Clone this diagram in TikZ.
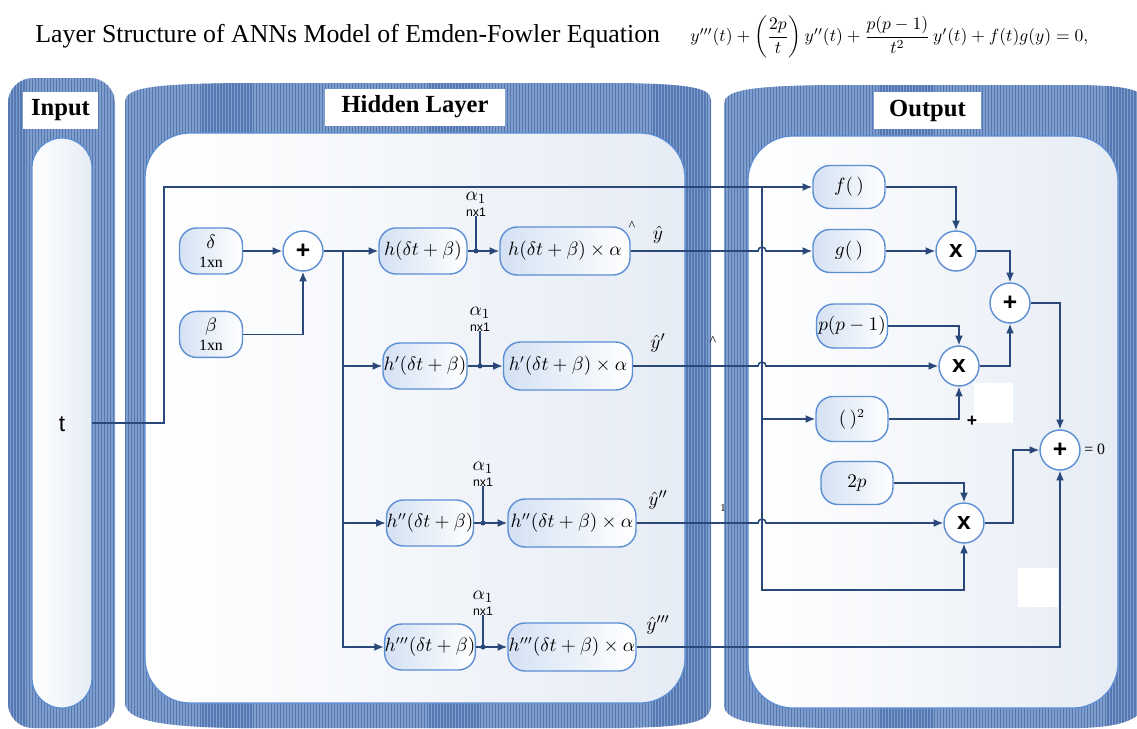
\documentclass[tikz,border=0pt]{standalone}
\usepackage{amsmath}
\usepackage{fontspec}
\setmainfont{Liberation Serif}
\setsansfont{Liberation Sans}
\usetikzlibrary{positioning,calc,arrows.meta,patterns.meta}

\definecolor{stripebase}{RGB}{128,158,204}
\definecolor{stripedark}{RGB}{86,120,178}
\definecolor{rimblue}{RGB}{92,142,212}
\definecolor{paneltint}{RGB}{230,236,245}
\definecolor{boxtint}{RGB}{212,225,243}
\definecolor{wireblue}{RGB}{42,72,122}

\begin{document}
\begin{tikzpicture}
    [x=0.02cm, y=-0.02cm,
     every node/.style={align=center, inner sep=0pt},
     panel/.style={fill=stripebase, postaction={pattern={Lines[angle=90,distance=1.7pt,line width=0.7pt]}, pattern color=stripedark}},
     well/.style={draw=rimblue, line width=0.7pt, left color=white, right color=paneltint},
     tag/.style={fill=white, font=\fontsize{14}{16}\selectfont\bfseries, minimum height=0.74cm},
     box/.style={draw=rimblue, line width=0.8pt, rounded corners=0.34cm, left color=boxtint, right color=white, minimum height=0.92cm, font=\fontsize{10.5}{12}\selectfont},
     opc/.style={circle, draw=rimblue, line width=0.8pt, fill=white, minimum size=0.8cm, font=\sffamily\bfseries\fontsize{14}{14}\selectfont},
     link/.style={draw=wireblue, line width=0.9pt},
     arr/.style={link, >={Latex[length=5.5pt,width=4.5pt]}, ->},
     note/.style={font=\fontsize{11}{12}\selectfont},
    ]
    \useasboundingbox (0,0) rectangle (1137,728);
    \clip (0,0) rectangle (1137,728);

    % columns
    \path[panel, rounded corners=0.5cm] (8,78) rectangle (115,728);
    \path[panel] (125,102) .. controls (125,88) and (150,84) .. (240,83) -- (620,83)
        .. controls (690,84) and (711,88) .. (711,100) -- (711,705)
        .. controls (711,722) and (690,727) .. (620,728) -- (240,728)
        .. controls (150,727) and (125,718) .. (125,702) -- cycle;
    \path[panel] (724,104) .. controls (724,90) and (750,86) .. (830,85) -- (1080,85)
        .. controls (1130,86) and (1145,90) .. (1145,104) -- (1145,700)
        .. controls (1145,715) and (1130,727) .. (1080,728) -- (830,728)
        .. controls (750,727) and (724,720) .. (724,705) -- cycle;

    \path[well, rounded corners=0.6cm] (32,138) rectangle (92,708);
    \path[well, rounded corners=0.9cm] (145,133) rectangle (685,703);
    \path[well, rounded corners=0.9cm] (748,136) rectangle (1118,708);

    \node[tag, minimum width=1.5cm] (labIn) at (60.5,110.5) {Input};
    \node[tag, minimum width=3.6cm] (labHid) at (415,107) {Hidden Layer};
    \node[tag, minimum width=2.14cm] (labOut) at (927.5,110.5) {Output};

    \fill[white] (974,383) rectangle (1013,423);
    \fill[white] (1018,568) rectangle (1058,607);

    % title
    \node[anchor=west, font=\fontsize{14.7}{16}\selectfont] (title) at (35,36)
        {Layer Structure of ANNs Model of Emden-Fowler Equation};
    \node[anchor=west, font=\fontsize{10}{12}\selectfont] (eqn) at (690,37)
        {$y'''(t)+\left(\dfrac{2p}{t}\right)y''(t)+\dfrac{p(p-1)}{t^2}\,y'(t)+f(t)g(y)=0,$};

    % input
    \node[font=\sffamily\fontsize{13}{13}\selectfont] (inT) at (62,424) {t};
    \coordinate (tout) at (92,423);
    \coordinate (tcorner) at (164,187);

    % hidden layer
    \node[box, minimum width=1.26cm] (delta) at (211,251)
        {$\delta$\\[-1pt]{\fontsize{9}{9}\selectfont 1xn}};
    \node[box, minimum width=1.26cm, below=0.72cm of delta] (beta)
        {$\beta$\\[-1pt]{\fontsize{9}{9}\selectfont 1xn}};
    \node[opc] (sum) at (303,251) {+};
    \coordinate (busA) at (343,251);

    \node[box, minimum width=1.76cm] (h1) at (423,251) {$h(\delta t+\beta)$};
    \node[box, minimum width=2.6cm, minimum height=0.96cm] (ha1) at (565,251) {$h(\delta t+\beta)\times\alpha$};
    \node[box, minimum width=1.68cm] (h2) at (425,366) {$h'(\delta t+\beta)$};
    \node[box, minimum width=2.58cm, minimum height=0.96cm] (ha2) at (568,366) {$h'(\delta t+\beta)\times\alpha$};
    \node[box, minimum width=1.74cm] (h3) at (430,523) {$h''(\delta t+\beta)$};
    \node[box, minimum width=2.56cm, minimum height=0.96cm] (ha3) at (572,523) {$h''(\delta t+\beta)\times\alpha$};
    \node[box, minimum width=1.74cm] (h4) at (430,647) {$h'''(\delta t+\beta)$};
    \node[box, minimum width=2.56cm, minimum height=0.96cm] (ha4) at (572,647) {$h'''(\delta t+\beta)\times\alpha$};

    \coordinate (dot1) at (476,251);
    \coordinate (dot2) at (480,366);
    \coordinate (dot3) at (483,523);
    \coordinate (dot4) at (483,647);
    \node[note] (al1) at (476,204) {$\alpha_1$\\[-3pt]{\sffamily\fontsize{7}{7}\selectfont nx1}};
    \node[note] (al2) at (480,319) {$\alpha_1$\\[-3pt]{\sffamily\fontsize{7}{7}\selectfont nx1}};
    \node[note] (al3) at (483,474) {$\alpha_1$\\[-3pt]{\sffamily\fontsize{7}{7}\selectfont nx1}};
    \node[note] (al4) at (483,603) {$\alpha_1$\\[-3pt]{\sffamily\fontsize{7}{7}\selectfont nx1}};

    \node[note] (yh1) at (658,235) {$\hat{y}$};
    \node[note] (yh2) at (658,343) {$\hat{y}'$};
    \node[note] (yh3) at (658,500) {$\hat{y}''$};
    \node[note] (yh4) at (658,625) {$\hat{y}'''$};
    \node[font=\fontsize{8}{8}\selectfont] (hat1) at (632,226) {\^{}};
    \node[font=\fontsize{8}{8}\selectfont] (hat2) at (713,341) {\^{}};
    \node[font=\fontsize{6}{6}\selectfont] (one) at (723,508) {1};

    % output
    \node[box, minimum width=1.44cm, minimum height=0.86cm] (f) at (849,187) {$f(\,)$};
    \node[box, minimum width=1.44cm, minimum height=0.86cm] (g) at (849,251) {$g(\,)$};
    \node[box, minimum width=1.42cm, minimum height=0.88cm] (pp) at (852,326) {$p(p-1)$};
    \node[box, minimum width=1.44cm, minimum height=0.9cm] (sq) at (852,419) {$(\,)^2$};
    \node[box, minimum width=1.44cm, minimum height=0.86cm] (twop) at (857,483) {$2p$};
    \node[opc] (mul1) at (956,251) {x};
    \node[opc] (mul2) at (959,366) {x};
    \node[opc] (mul3) at (964,523) {x};
    \node[opc] (add1) at (1010,303) {+};
    \node[opc] (add2) at (1060,450) {+};
    \node[anchor=west, font=\fontsize{9}{9}\selectfont] (zero) at (1084,449) {= 0};
    \node[font=\sffamily\bfseries\fontsize{10}{10}\selectfont] (stray) at (972,421) {+};
    \coordinate (busB) at (762,187);
    \coordinate (busBend) at (762,590);
    \coordinate (elbow) at (1013,450);

    % connectors
    \draw[arr] (delta) -- (sum);
    \draw[arr] (beta) -| (sum);
    \draw[arr] (sum) -- (h1);
    \draw[arr] (busA) |- (h2);
    \draw[arr] (busA) |- (h3);
    \draw[arr] (busA) |- (h4);

    \draw[arr] (h1) -- (ha1);
    \draw[arr] (h2) -- (ha2);
    \draw[arr] (h3) -- (ha3);
    \draw[arr] (h4) -- (ha4);
    \draw[link] (al1) -- (dot1);
    \draw[link] (al2) -- (dot2);
    \draw[link] (al3) -- (dot3);
    \draw[link] (al4) -- (dot4);
    \fill[wireblue] (dot1) circle (0.05cm) (dot2) circle (0.05cm)
        (dot3) circle (0.05cm) (dot4) circle (0.05cm);

    \draw[arr] (tout) -| (tcorner) -- (f);
    \draw[arr] (busB) |- (sq);
    \draw[arr] (busB) -- (busBend) -| (mul3);

    \draw[arr] (ha1) -- ($(ha1 -| busB)+(-4,0)$) arc[start angle=180, end angle=0, radius=0.08cm] -- (g);
    \draw[arr] (ha2) -- ($(ha2 -| busB)+(-4,0)$) arc[start angle=180, end angle=0, radius=0.08cm] -- (mul2);
    \draw[arr] (ha3) -- ($(ha3 -| busB)+(-4,0)$) arc[start angle=180, end angle=0, radius=0.08cm] -- (mul3);
    \draw[arr] (ha4) -| (add2);

    \draw[arr] (f) -| (mul1);
    \draw[arr] (g) -- (mul1);
    \draw[arr] (mul1) -| (add1);
    \draw[arr] (pp) -| (mul2);
    \draw[arr] (sq) -| (mul2);
    \draw[arr] (mul2) -| (add1);
    \draw[arr] (add1) -| (add2);
    \draw[arr] (twop) -| (mul3);
    \draw[arr] (mul3) -| (elbow) -- (add2);

\end{tikzpicture}
\end{document}
